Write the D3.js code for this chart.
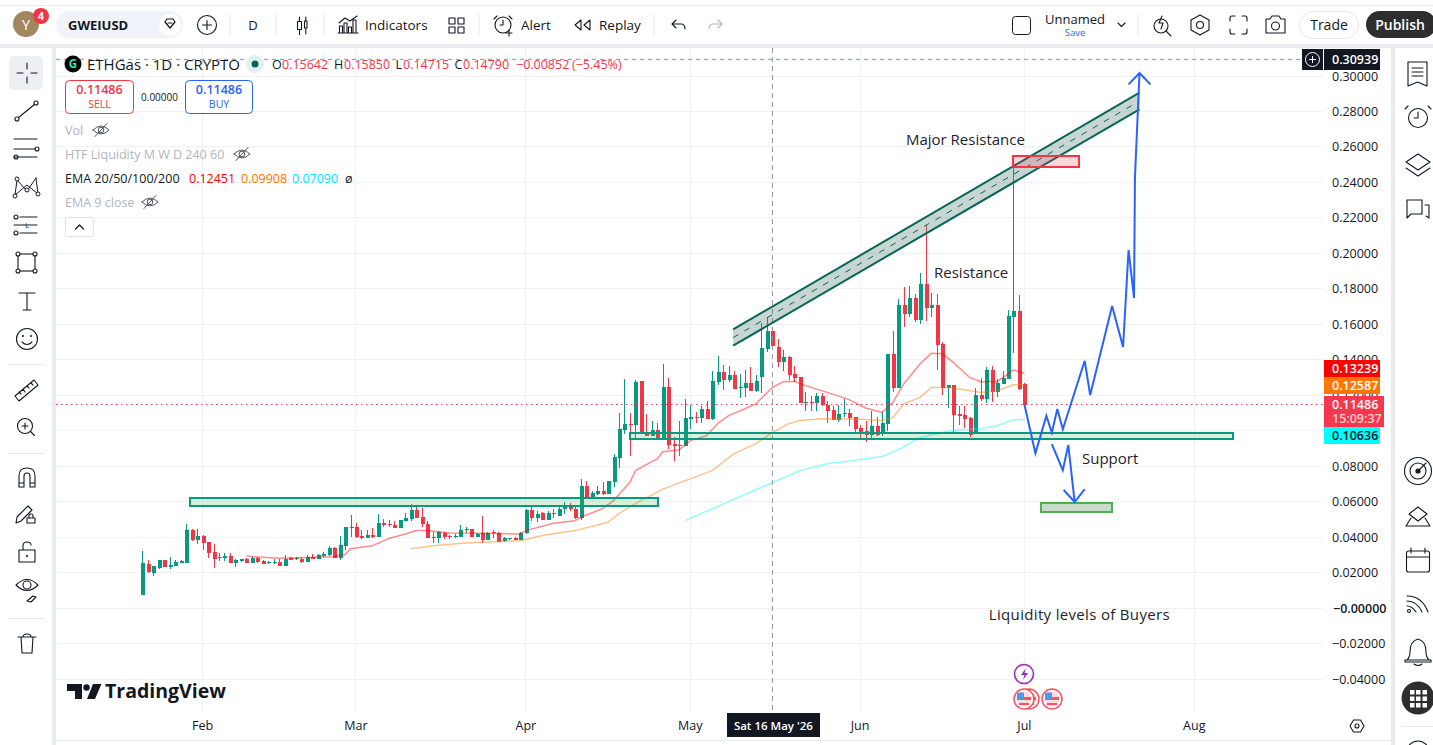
<!DOCTYPE html>
<html>
<head>
<meta charset="utf-8">
<title>ETHGas 1D</title>
<script src="https://cdnjs.cloudflare.com/ajax/libs/d3/7.8.5/d3.min.js"></script>
<style>
  html, body { margin: 0; padding: 0; background: #fff; overflow: hidden; }
  svg { display: block; }
  text { font-family: "Open Sans", "Noto Sans", sans-serif; }
</style>
</head>
<body>
<svg id="chart" width="1433" height="745"></svg>
<script>
// Daily candles, first bar 21 Jan 2026
const firstDay = new Date(2026, 0, 21);
const opens = [
  .0077,.0250,.0201,.0227,.0274,.0235,.0240,.0257,.0257,.0443,
  .0387,.0409,.0376,.0319,.0286,.0286,.0297,.0257,.0269,.0280,
  .0257,.0286,.0269,.0257,.0257,.0263,.0240,.0284,.0276,.0280,
  .0263,.0291,.0280,.0295,.0302,.0342,.0286,.0353,.0454,.0460,
  .0409,.0398,.0415,.0404,.0483,.0477,.0471,.0454,.0494,.0505,
  .0556,.0516,.0477,.0404,.0398,.0426,.0409,.0406,.0404,.0443,
  .0449,.0404,.0426,.0387,.0428,.0426,.0378,.0393,.0398,.0387,
  .0426,.0556,.0511,.0537,.0500,.0537,.0522,.0562,.0569,.0562,
  .0511,.0691,.0629,.0646,.0663,.0646,.0714,.0849,.1007,.1041,
  .1035,.1283,.0995,.0973,.1007,.0949,.1249,.0928,.0922,.0917,
  .1069,.1080,.1074,.1125,.1069,.1277,.1334,.1288,.1317,.1243,
  .1243,.1272,.1226,.1305,.1463,.15642,.1474,.1390,.1418,.1322,
  .1305,.1159,.1164,.1159,.1198,.1148,.1119,.1063,.1097,.1103,
  .1080,.1018,.1001,.0979,.1029,.0990,.1041,.1435,.1243,.1711,
  .1660,.1750,.1626,.1829,.1694,.1711,.1491,.1243,.1260,.1097,
  .1091,.1074,.0984,.1204,.1181,.1345,.1221,.1266,.1294,.1643,.1677,.1266
];
const highs = [
  .0325,.0272,.0240,.0274,.0274,.0291,.0272,.0274,.0477,.0449,
  .0449,.0415,.0376,.0364,.0314,.0314,.0314,.0280,.0280,.0286,
  .0297,.0291,.0274,.0269,.0280,.0280,.0302,.0291,.0291,.0287,
  .0302,.0308,.0308,.0319,.0353,.0347,.0409,.0460,.0528,.0483,
  .0443,.0443,.0454,.0533,.0505,.0500,.0494,.0500,.0539,.0590,
  .0569,.0567,.0494,.0428,.0438,.0432,.0415,.0419,.0471,.0460,
  .0449,.0426,.0522,.0432,.0441,.0428,.0404,.0398,.0404,.0430,
  .0562,.0584,.0546,.0545,.0550,.0562,.0573,.0601,.0593,.0584,
  .0731,.0715,.0663,.0691,.0713,.0719,.0872,.1103,.1294,.1103,
  .1288,.1283,.1097,.1058,.1046,.1379,.1300,.0967,.1058,.1181,
  .1148,.1108,.1142,.1170,.1339,.1424,.1373,.1367,.1339,.1322,
  .1345,.1362,.1317,.1610,.1643,.15850,.1519,.1457,.1424,.1367,
  .1305,.1221,.1198,.1215,.1215,.1170,.1142,.1148,.1181,.1125,
  .1080,.1035,.1058,.1114,.1080,.1108,.1435,.1565,.1745,.1812,
  .1818,.1773,.1891,.2162,.1779,.1773,.1503,.1260,.1260,.1142,
  .1142,.1080,.1243,.1300,.1362,.1367,.1294,.1339,.1683,.2488,.1767,.1272
];
const lows = [
  .0077,.0201,.0184,.0223,.0235,.0223,.0240,.0257,.0257,.0381,
  .0363,.0331,.0282,.0229,.0269,.0269,.0257,.0235,.0263,.0257,
  .0257,.0257,.0252,.0252,.0252,.0238,.0240,.0274,.0274,.0257,
  .0263,.0280,.0280,.0291,.0297,.0286,.0274,.0331,.0404,.0398,
  .0393,.0398,.0398,.0404,.0460,.0460,.0454,.0454,.0494,.0494,
  .0511,.0460,.0398,.0370,.0370,.0393,.0393,.0398,.0404,.0426,
  .0404,.0404,.0370,.0387,.0398,.0376,.0376,.0387,.0387,.0387,
  .0419,.0494,.0488,.0500,.0500,.0511,.0518,.0533,.0546,.0503,
  .0500,.0629,.0629,.0640,.0640,.0646,.0686,.0793,.0984,.0860,
  .0956,.0984,.0973,.0973,.0949,.0949,.0900,.0828,.0860,.0917,
  .1012,.1046,.1046,.1069,.1063,.1260,.1232,.1277,.1238,.1187,
  .1193,.1226,.1221,.1215,.1446,.14715,.1362,.1339,.1288,.1277,
  .1159,.1114,.1114,.1114,.1142,.1046,.1063,.1052,.1080,.1029,
  .0984,.0962,.0939,.0962,.0973,.0973,.1001,.1221,.1243,.1587,
  .1643,.1615,.1604,.1621,.1643,.1345,.1204,.1131,.0995,.1035,
  .1018,.0967,.0984,.1170,.1159,.1164,.1193,.1266,.1294,.1441,.1232,.1143
];
const closes = [
  .0253,.0207,.0240,.0274,.0235,.0246,.0263,.0265,.0443,.0387,
  .0409,.0370,.0314,.0280,.0291,.0297,.0257,.0274,.0280,.0257,
  .0286,.0263,.0252,.0263,.0263,.0240,.0280,.0274,.0282,.0263,
  .0291,.0280,.0302,.0308,.0342,.0286,.0359,.0460,.0460,.0404,
  .0398,.0415,.0404,.0483,.0471,.0468,.0454,.0500,.0511,.0556,
  .0511,.0477,.0398,.0398,.0428,.0404,.0404,.0409,.0441,.0447,
  .0404,.0421,.0387,.0426,.0423,.0376,.0396,.0398,.0387,.0426,
  .0556,.0511,.0533,.0500,.0539,.0532,.0562,.0577,.0562,.0511,
  .0691,.0629,.0651,.0663,.0646,.0719,.0855,.1012,.1041,.1035,
  .1277,.0990,.0973,.1007,.0949,.1249,.0922,.0917,.0917,.1074,
  .1080,.1074,.1125,.1069,.1283,.1334,.1288,.1317,.1238,.1249,
  .1272,.1226,.1283,.1469,.1565,.14790,.1390,.1418,.1317,.1300,
  .1159,.1164,.1159,.1198,.1148,.1114,.1063,.1097,.1103,.1074,
  .1012,.0995,.0979,.1029,.0979,.1046,.1435,.1243,.1711,.1660,
  .1750,.1626,.1829,.1694,.1711,.1486,.1243,.1260,.1091,.1086,
  .1069,.0979,.1204,.1181,.1345,.1221,.1272,.1300,.1649,.1677,.1238,.11486
];

// Moving averages as [bar number, price]
const ema20 = [[19,.0297],[20,.0291],[25,.0282],[30,.0287],[35,.0291],[37,.0303],[38,.0336],[42,.0353],[45,.0394],[48,.0419],[50,.0438],[52,.0438],[56,.0425],[62,.0423],[69,.0419],[70,.0438],[75,.0479],[79,.0494],[80,.0513],[84,.0562],[86,.0607],[89,.0710],[90,.0776],[94,.0843],[95,.0883],[98,.0894],[100,.0945],[103,.0973],[105,.1041],[107,.1086],[110,.1125],[112,.1153],[115,.12451],[117,.1277],[119,.1279],[121,.1255],[125,.1217],[129,.1176],[132,.1129],[135,.1104],[136,.1132],[137,.1161],[139,.1266],[142,.1379],[144,.1437],[146,.1435],[148,.1386],[151,.1301],[153,.1277],[156,.1277],[159,.1343],[161,.13239]];
const ema50 = [[49,.0336],[53,.0353],[59,.0368],[65,.0377],[69,.0381],[73,.0410],[79,.0438],[85,.0485],[87,.0534],[90,.0590],[95,.0672],[104,.0776],[108,.0872],[112,.0928],[115,.09908],[118,.1041],[120,.1058],[124,.1069],[130,.1067],[135,.1058],[137,.1076],[139,.1153],[142,.1189],[144,.1245],[147,.1245],[150,.1232],[153,.1217],[156,.1226],[159,.1260],[161,.12587]];
const ema100 = [[99,.0494],[107,.0601],[115,.07090],[120,.0776],[125,.0815],[131,.0838],[135,.0855],[138,.0894],[142,.0963],[146,.0992],[149,.1007],[153,.1012],[156,.1029],[159,.1063],[161,.10636]];

const priceTicks = [.30,.28,.26,.24,.22,.20,.18,.16,.14,.12,.10,.08,.06,.04,.02,0,-.02,-.04];
const monthTicks = [[new Date(2026,1,1),"Feb"],[new Date(2026,2,1),"Mar"],[new Date(2026,3,1),"Apr"],[new Date(2026,4,1),"May"],[new Date(2026,5,1),"Jun"],[new Date(2026,6,1),"Jul"],[new Date(2026,7,1),"Aug"]];

const lastClose = .11486, crossPrice = .30939;
const crossDay = new Date(2026, 4, 16);

// Hand-drawn annotations as [days since first bar, price]
const channelTop = [[107.84,.1572],[182,.2906]];
const channelBottom = [[107.84,.1480],[182,.2812]];
const supportBoxes = [
  {from:8.76, to:94.1, hi:.0624, lo:.0577},
  {from:89, to:199.1, hi:.0986, lo:.0954}
];
const buyerBox = {from:164, to:177, hi:.0593, lo:.0543};
const resistanceBox = {from:158.9, to:171, hi:.2549, lo:.2488};
const forecastUp = [[161,.1149],[163,.0874],[165,.1084],[166,.0990],[167,.1123],[168,.1009],[172,.1395],[173,.1202],[177,.1704],[179,.1473],[180,.2019],[181,.1749],[181.2,.2425],[182,.3017]];
const forecastUpHead = [[180,.2953],[182,.3017],[184,.2953]];
const forecastDown = [[166,.0926],[168,.0779],[169,.0920],[170.2,.0599]];
const forecastDownHead = [[168.2,.0667],[170.2,.0599],[172,.0672]];
const noteLabels = [
  ["Major Resistance",139.4,.2611,0],
  ["Resistance",144.5,.1862,0],
  ["Support",171.5,.0813,0],
  ["Liquidity levels of Buyers",154.5,-.0066,.33]
];

const svg = d3.select("#chart");
const INK = "#131722", GREEN = "#089981", RED = "#f23645", GRID = "#f0f2f4", BLUE = "#2962ff", STRIP = "#e9ebee";

const x = d3.scaleTime().domain([firstDay, new Date(2026,7,1)]).range([142.3, 1194.3]);
const dayX = d => x(d3.timeHour.offset(firstDay, d * 24));
const y = d3.scaleLinear().domain([.30,-.04]).range([76, 679.3]);
const pt = p => [dayX(p[0]), y(p[1])];

// Panel strips
svg.append("rect").attr("width",1433).attr("height",745).attr("fill","#fff");
const strip = (a,b,c,d) => svg.append("rect").attr("x",a).attr("y",b).attr("width",c).attr("height",d).attr("fill",STRIP);
strip(0,5,1433,1);
strip(0,44,1433,4);
strip(52,48,4,697);
strip(1391,48,4,697);
strip(56,740,1335,1);

// Gridlines
const grid = svg.append("g").attr("shape-rendering","crispEdges");
grid.selectAll(".h").data(priceTicks).join("line").attr("x1",56).attr("x2",1323)
  .attr("y1",d=>y(d)).attr("y2",d=>y(d)).attr("stroke",GRID);
grid.selectAll(".v").data(monthTicks).join("line").attr("x1",d=>x(d[0])).attr("x2",d=>x(d[0]))
  .attr("y1",48).attr("y2",712).attr("stroke",GRID);

// Candles
const bars = d3.range(opens.length).map(i => ({i, o:opens[i], h:highs[i], l:lows[i], c:closes[i]}));
const colour = d => d.c >= d.o ? GREEN : RED;
const candles = svg.append("g").attr("shape-rendering","crispEdges");
candles.selectAll(".wick").data(bars).join("rect").attr("class","wick")
  .attr("x",d=>Math.round(dayX(d.i)))
  .attr("width",1)
  .attr("y",d=>y(d.h)).attr("height",d=>Math.max(1,y(d.l)-y(d.h))).attr("fill",colour);
candles.selectAll(".body").data(bars).join("rect").attr("class","body")
  .attr("x",d=>Math.round(dayX(d.i))-1.5)
  .attr("width",4)
  .attr("y",d=>y(Math.max(d.o,d.c))).attr("height",d=>Math.max(1,Math.abs(y(d.o)-y(d.c)))).attr("fill",colour);

// Moving averages
const emaLine = d3.line().x(d=>dayX(d[0])).y(d=>y(d[1]));
[[ema20,"#ff0000"],[ema50,"#ff7700"],[ema100,"#00ffff"]].forEach(([s,c]) =>
  svg.append("path").attr("d",emaLine(s)).attr("fill","none").attr("stroke",c).attr("stroke-opacity",.45).attr("stroke-width",1.5));

// Last price line
svg.append("line").attr("x1",56).attr("x2",1323).attr("y1",y(lastClose)).attr("y2",y(lastClose))
  .attr("stroke",RED).attr("stroke-width",1).attr("stroke-dasharray","1.5 3.5");

// Crosshair
svg.append("line").attr("x1",x(crossDay)).attr("x2",x(crossDay)).attr("y1",48).attr("y2",712)
  .attr("stroke","#8f929c").attr("stroke-dasharray","5 4");
svg.append("line").attr("x1",56).attr("x2",1302).attr("y1",y(crossPrice)).attr("y2",y(crossPrice))
  .attr("stroke","#8f929c").attr("stroke-dasharray","4 4");

// Parallel channel
const poly = [...channelTop, ...channelBottom.slice().reverse()].map(pt);
svg.append("polygon").attr("points",poly.join(" ")).attr("fill","rgb(72,118,108)").attr("fill-opacity",.3);
const chLine = d3.line().x(d=>dayX(d[0])).y(d=>y(d[1]));
[channelTop, channelBottom].forEach(s => svg.append("path").attr("d",chLine(s)).attr("stroke","#056656").attr("stroke-width",2).attr("fill","none"));
svg.append("path").attr("d",chLine(channelTop.map((p,i)=>[p[0],(p[1]+channelBottom[i][1])/2])))
  .attr("stroke","#056656").attr("stroke-width",1).attr("stroke-dasharray","6 7").attr("fill","none");

// Boxes
const box = (b, stroke, fill, sw) => svg.append("rect").attr("shape-rendering","crispEdges")
  .attr("x",dayX(b.from)).attr("width",dayX(b.to)-dayX(b.from))
  .attr("y",y(b.hi)).attr("height",y(b.lo)-y(b.hi))
  .attr("fill",fill).attr("stroke",stroke).attr("stroke-width",sw);
supportBoxes.forEach(b => box(b, GREEN, "rgba(76,175,80,.2)", 2));
box(buyerBox, "#4caf50", "rgba(56,120,70,.27)", 1.5);
box(resistanceBox, RED, "rgba(242,54,69,.2)", 2);

// Forecast path
const fLine = d3.line().x(d=>dayX(d[0])).y(d=>y(d[1]));
[forecastUp, forecastUpHead, forecastDown, forecastDownHead].forEach(s =>
  svg.append("path").attr("d",fLine(s)).attr("fill","none").attr("stroke",BLUE).attr("stroke-width",2).attr("stroke-linejoin","miter"));

// Notes on the chart
noteLabels.forEach(([t,d,p,sp]) => svg.append("text").attr("x",dayX(d)).attr("y",y(p)).attr("font-size",15).attr("letter-spacing",sp).attr("fill","#1f2229").text(t));

// Price axis; the 0.10000 row sits fully under the cyan tag so only its gridline shows
const fmtPrice = d => (d<=0?"\u2212":"")+Math.abs(d).toFixed(5);
svg.selectAll(".ptick").data(priceTicks.filter(d => d !== .10)).join("text")
  .attr("x",d=>d===0?1333:1332).attr("y",d=>y(d)+4.5).attr("font-size",12.5)
  .attr("font-weight",d=>d===0?600:400).attr("fill",INK).text(fmtPrice);

// Price tags
const tag = (x0,y0,w,h,bg,fg,t,base) => {
  svg.append("rect").attr("x",x0).attr("y",y0).attr("width",w).attr("height",h).attr("fill",bg);
  svg.append("text").attr("x",1332).attr("y",base).attr("font-size",12.5).attr("font-weight",600).attr("fill",fg).text(t);
};
tag(1324,49,56,21,"#131722","#fff",crossPrice.toFixed(5),64);
tag(1324,360,56,17,"#ff0000","#fff",ema20[ema20.length-1][1].toFixed(5),373);
tag(1324,377,56,17,"#ff7700","#fff",ema50[ema50.length-1][1].toFixed(5),390);
tag(1324,396,60,31,"#f6374d","#fff",lastClose.toFixed(5),409);
svg.append("text").attr("x",1332).attr("y",423).attr("font-size",12.5).attr("font-weight",600).attr("fill","#fbd1d6").text("15:09:37");
tag(1324,427,56,17,"#00ffff","#131722",ema100[ema100.length-1][1].toFixed(5),440);

// Plus button on the crosshair
svg.append("rect").attr("x",1302).attr("y",49).attr("width",21).attr("height",21).attr("fill","#131722");
svg.append("circle").attr("cx",1312.5).attr("cy",59.5).attr("r",7).attr("fill","none").attr("stroke","#fff");
svg.append("path").attr("d","M1309 59.5h7M1312.5 56v7").attr("stroke","#fff");

// Time axis
svg.selectAll(".mtick").data(monthTicks).join("text").attr("x",d=>x(d[0])).attr("y",730)
  .attr("text-anchor","middle").attr("font-size",12.5).attr("fill",INK).text(d=>d[1]);
svg.append("rect").attr("x",727).attr("y",713).attr("width",93).attr("height",24).attr("fill","#131722");
svg.append("text").attr("x",x(crossDay)+1).attr("y",730).attr("text-anchor","middle").attr("font-size",11.5).attr("font-weight",600).attr("fill","#fff").text("Sat 16 May '26");

// Generic stroke icon helper
const ic = (d, sw=1.1, c=INK, f="none") => svg.append("path").attr("d",d).attr("fill",f).attr("stroke",c).attr("stroke-width",sw).attr("stroke-linejoin","round").attr("stroke-linecap","round");
const label = (t,xp,yp,size,col,weight=400,anchor="start") => svg.append("text").attr("x",xp).attr("y",yp).attr("font-size",size).attr("fill",col).attr("font-weight",weight).attr("text-anchor",anchor).text(t);
const ring = (cx,cy,r,sw=1.1,c=INK,f="none") => svg.append("circle").attr("cx",cx).attr("cy",cy).attr("r",r).attr("fill",f).attr("stroke",c).attr("stroke-width",sw);

// Legend block
ring(73,64,8.5,0,"none","#000");
label("G",73,68,11.5,"#2ee6a8",700,"middle");
label("ETHGas \u00b7 1D \u00b7 CRYPTO",87,69.5,15,INK);
ring(255,64,9,0,"none","#e0f1ee");
ring(255,64,3.5,0,"none","#056656");
const legendPieces = [["O",272,INK],["0.15642",282,RED],["H",334,INK],["0.15850",344,RED],["L",395.5,INK],["0.14715",403,RED],["C",454.5,INK],["0.14790",463,RED],["\u22120.00852",516,RED],["(\u22125.45%)",572,RED]];
legendPieces.forEach(([t,xp,c]) => label(t,xp,69,12.5,c));

svg.append("rect").attr("x",65.5).attr("y",80.5).attr("width",68).attr("height",33).attr("rx",4).attr("fill","#fff").attr("stroke",RED);
label("0.11486",99.5,93.5,12.5,RED,600,"middle");
label("SELL",99.5,108,10.5,RED,400,"middle");
label("0.00000",159.5,100.5,10,INK,400,"middle");
svg.append("rect").attr("x",185.5).attr("y",80.5).attr("width",67).attr("height",33).attr("rx",4).attr("fill","#fff").attr("stroke",BLUE);
label("0.11486",219,93.5,12.5,BLUE,600,"middle");
label("BUY",219,108,10.5,BLUE,400,"middle");

const eyeOff = (cx,cy) => {
  ic(`M${cx-8} ${cy}Q${cx} ${cy-8} ${cx+8} ${cy}Q${cx} ${cy+8} ${cx-8} ${cy}Z`,1,"#50535e");
  ring(cx,cy,2.8,1,"#50535e");
  ic(`M${cx-6} ${cy+6.5}L${cx+6} ${cy-6.5}`,1,"#50535e");
};
label("Vol",65,135,12.5,"#b2b5be");
eyeOff(101,130);
label("HTF Liquidity M W D 240 60",65,159,12.5,"#b2b5be");
eyeOff(242,154);
label("EMA 20/50/100/200",65,183,12.5,INK);
label("0.12451",189,183,12.5,"#ff0000");
label("0.09908",241,183,12.5,"#ff7700");
label("0.07090",292,183,12.5,"#00e5ff");
label("\u00f8",345,183,12.5,INK);
label("EMA 9 close",65,207,12.5,"#b2b5be");
eyeOff(150,202);
svg.append("rect").attr("x",65.5).attr("y",217.5).attr("width",28).attr("height",19).attr("rx",2).attr("fill","#fff").attr("stroke","#e0e3eb");
ic("M75.5 229l4-4 4 4",1.2);

// Watermark
svg.append("path").attr("fill","#131722").attr("d","M67 684h15v15h-7v-8h-8zM93 684h8.5l-6.5 15h-8z");
ring(86.5,687.5,3.2,0,"none","#131722");
label("TradingView",105,698,19.5,"#131722",700);

// Event markers
ring(1024,674,9.5,1.6,"#9c27b0","#fff");
svg.append("path").attr("d","M1026 668l-5 7h3.5l-1.5 5 5-7h-3.5z").attr("fill","#9c27b0");
const flag = cx => {
  ring(cx,699,10,1.5,"#f7525f","#fff");
  ring(cx,699,7.5,0,"none","#fdd");
  svg.append("rect").attr("x",cx-7).attr("y",697).attr("width",14).attr("height",3).attr("fill","#f7525f");
  svg.append("rect").attr("x",cx-5).attr("y",703).attr("width",10).attr("height",2).attr("fill","#f7525f");
  svg.append("rect").attr("x",cx-7).attr("y",692.5).attr("width",7).attr("height",6.5).attr("fill","#4d9be8");
};
flag(1029); flag(1024); flag(1052);

// Top toolbar
ring(26,24,13,0,"none","#a18660");
label("Y",26,30,15,"#fff",400,"middle");
ring(41,16,8,0,"none","#f23645");
label("4",41,20,10.5,"#fff",700,"middle");
svg.append("rect").attr("x",56).attr("y",11).attr("width",127).attr("height",27).attr("rx",13.5).attr("fill","#f0f3fa");
label("GWEIUSD",68,30,13,INK,700);
ring(170,25,11,0,"none","#fff");
ic("M165 22l2-3h6l2 3-5 6zM168 23h4",1.2);
ring(207,25,9.5); ic("M207 20.5v9M202.5 25h9");
const sep = (xp,a=14,b=36) => svg.append("line").attr("x1",xp).attr("x2",xp).attr("y1",a).attr("y2",b).attr("stroke","#e6e8ed");
sep(230); sep(276); sep(324); sep(479); sep(654);
label("D",253,30,13,INK,400,"middle");
ic("M297.5 21.5h4v8h-4zM299.5 17v4.5M299.5 29.5v5M304.5 21h2.5v7h-2.5zM305.8 17v4M305.8 28v6",1.1);
ic("M339.5 33v-7h3v7M344 33v-10h3v10M348.5 33v-6h3v6M353 33v-13h3v13M338 33h20M339 23l6-5 5 3 7-5");
label("Indicators",365,30,13.5,INK);
ic("M449 18h6v6h-6zM458 18h6v6h-6zM449 27h6v6h-6zM458 27h6v6h-6z");
ring(503,25,8); ic("M503 20v5h-3M494 19l3-3M512 19l-3-3M509 30v6M506 33h6");
label("Alert",521,30,13.5,INK);
ic("M581 20l-6 5 6 5zM590 20l-6 5 6 5z");
label("Replay",599,30,13.5,INK);
ic("M672 24h9q4 0 4 5M672 24l4-4M672 24l4 4");
ic("M722 24h-9q-4 0-4 5M722 24l-4-4M722 24l-4 4",1.1,"#b2b5be");

svg.append("rect").attr("x",1012.5).attr("y",16.5).attr("width",18).attr("height",18).attr("rx",3).attr("fill","none").attr("stroke",INK);
label("Unnamed",1075,24,13,INK,400,"middle");
label("Save",1075,36,9.5,BLUE,400,"middle");
ic("M1118 23l3.5 3.5 3.5-3.5");
sep(1138);
ring(1161,26,7); ic("M1166 31l5 5M1162 16l-3 7h4l-2 6");
ic("M1200 15l9 5v10l-9 5-9-5V20z"); ring(1200,25,3.5);
ic("M1230 21v-3q0-2 2-2h3M1242 16h3q2 0 2 2v3M1247 29v3q0 2-2 2h-3M1235 34h-3q-2 0-2-2v-3");
ic("M1266 19h4l2-3h7l2 3h4v14h-19z"); ring(1275.5,26,4);
svg.append("rect").attr("x",1299.5).attr("y",11.5).attr("width",59).attr("height",27).attr("rx",13.5).attr("fill","#fff").attr("stroke","#e6e8ed");
label("Trade",1329,30,14,INK,400,"middle");
svg.append("rect").attr("x",1366).attr("y",11).attr("width",70).attr("height",27).attr("rx",13.5).attr("fill","#2e2e2e");
label("Publish",1400,30,14,"#fff",600,"middle");

// Left tool rail
svg.append("rect").attr("x",9).attr("y",56).attr("width",34).attr("height",34).attr("rx",5).attr("fill","#eeeff2");
ic("M27 63v6M27 77v6M17 73h6M31 73h6");
ring(17,119,2); ring(36,103,2); ic("M18.5 117.5L34.5 104.5");
ic("M14 139h23M14 149h21M14 157h23"); ring(37,149,2); ring(16,157,2);
ic("M17 180L15 195M17 180L27 191M27 191L36 178M36 178L38 194M15 195L27 185L38 194",1); ring(17,179,2,1,INK,"#fff"); ring(15,196,2,1,INK,"#fff"); ring(38,194,2,1,INK,"#fff"); ring(27,190,2,1,INK,"#fff");
ic("M20 217h17M14 225h23M20 233h17"); ring(16,217,2); ring(16,233,2); label("L",27,228,7,INK,400,"middle");
svg.append("rect").attr("x",18).attr("y",254).attr("width",17).attr("height",17).attr("fill","none").attr("stroke",INK).attr("stroke-width",1.1);
[[18,254],[35,254],[18,271],[35,271]].forEach(c=>ring(c[0],c[1],2,1.1,INK,"#fff"));
ic("M19 293h16M27 293v17M23 310h8");
ring(27,339,10.5); ring(23,336,.7,1); ring(31,336,.7,1); ic("M22 342q5 5 10 0");
svg.append("line").attr("x1",8).attr("x2",44).attr("y1",364.5).attr("y2",364.5).attr("stroke","#e6e8ed");
ic("M15 396L34 380l4 5-19 16zM19 392l2 2M23 389l2 3M27 386l2 2M31 383l2 2");
ring(25,426,7.5); ic("M25 423v6M22 426h6M30.5 431.5l4 4");
svg.append("line").attr("x1",8).attr("x2",44).attr("y1",453.5).attr("y2",453.5).attr("stroke","#e6e8ed");
ic("M19 487v-11q0-8 8-8t8 8v11h-5v-11q0-3-3-3t-3 3v11zM19 483h5M30 483h5");
ic("M16 523l1-6 11-11 4 4-11 11zM27 523h8v-5h-8zM29 518v-2q0-2 2-2t2 2v2");
ic("M19 550h16v12H19zM23 550v-4q0-4 4-4t4 3");
ring(27,556,.8,1);
ic("M16 585q11-11 22 0q-11 11-22 0z"); ring(27,585,4); ic("M27 601l6-5 3 1-5 5z");
svg.append("line").attr("x1",8).attr("x2",44).attr("y1",618.5).attr("y2",618.5).attr("stroke","#e6e8ed");
ic("M18 637h18M21 637l1 16h10l1-16M23 637q0-3 4-3t4 3");

// Right rail
ic("M1408 62h19v24l-9.5-4-9.5 4zM1412 68h11M1412 72h11M1412 76h11");
ring(1418,118,9.5); ic("M1418 112v6h-4M1408 106l-3 3M1428 106l3 3");
ic("M1418 154l12 8-12 8-12-8zM1406 168l12 8 12-8");
ic("M1407 200h15v14h-11l-4 4zM1425 205h4v13l-3-2");
ring(1418,471,13.5); ring(1418,471,8); ring(1418,471,2,1.2,INK,INK); ic("M1418 471l8-8");
ic("M1418 507l9 7-9 7-9-7zM1406 526h24l-5-8M1406 526l5-8");
svg.append("rect").attr("x",1406.5).attr("y",551).attr("width",23).attr("height",21).attr("rx",2).attr("fill","none").attr("stroke",INK).attr("stroke-width",1.1);
ic("M1406.5 557h23M1411 548v5M1425 548v5");
ic("M1407 596q15 0 21 16M1407 601q10 0 15 11M1407 606q5 0 9 6"); ring(1409,611,1.5);
ic("M1407 660q3-3 3-8q0-11 8-13q8 2 8 13q0 5 3 8zM1405 660h26v2h-26zM1414 664q4 3 8 0");
ring(1418,698,16.5,0,"none","#2e2e2e");
svg.append("g").selectAll("rect").data(d3.cross([1410,1416,1422.5],[690,696.5,703])).join("rect")
  .attr("x",d=>d[0]).attr("y",d=>d[1]).attr("width",4.5).attr("height",4.5).attr("fill","#fff");
svg.append("line").attr("x1",1402).attr("x2",1433).attr("y1",726.5).attr("y2",726.5).attr("stroke","#e6e8ed");
ring(1418,752,11);

// Axis settings hex
ic("M1350 726l3.5-6h7l3.5 6-3.5 6h-7z"); ring(1357,726,2);
</script>
</body>
</html>
